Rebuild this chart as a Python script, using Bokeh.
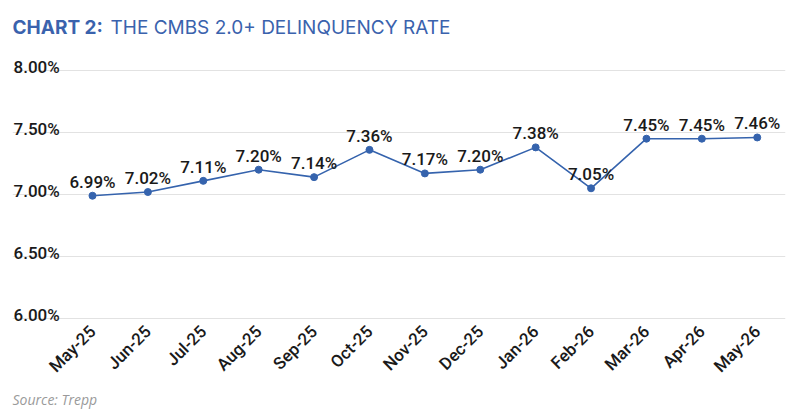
import math
from bokeh.plotting import figure
from bokeh.models import ColumnDataSource, FixedTicker, Label, Range1d, Title
from bokeh.core.properties import value
from bokeh.embed import file_html
from bokeh.resources import INLINE

months = ["May-25", "Jun-25", "Jul-25", "Aug-25", "Sep-25", "Oct-25", "Nov-25",
          "Dec-25", "Jan-26", "Feb-26", "Mar-26", "Apr-26", "May-26"]
rates = [6.99, 7.02, 7.11, 7.20, 7.14, 7.36, 7.17, 7.20, 7.38, 7.05, 7.45, 7.45, 7.46]
y_ticks = [6.0, 6.5, 7.0, 7.5, 8.0]
y_tick_labels = ["6.00%", "6.50%", "7.00%", "7.50%", "8.00%"]

BLUE = "#3563ad"
TITLE_BLUE = "#3a62ad"
TEXT = "#1a1a1a"
FONT = "Roboto Medium"

idx = list(range(len(months)))
src = ColumnDataSource(dict(x=idx, y=rates, lab=["%.2f%%" % r for r in rates]))

x0, x1 = -1.444, 12.51
p = figure(width=806, height=410, output_backend="svg", toolbar_location=None,
           title=None,
           x_range=Range1d(x0, x1), y_range=Range1d(5.9677, 8.5645),
           min_border_left=12, min_border_right=21, min_border_top=0,
           min_border_bottom=88)
p.outline_line_color = None
p.background_fill_color = "white"
p.border_fill_color = "white"

p.yaxis.visible = False
p.ygrid.ticker = FixedTicker(ticks=y_ticks)
p.ygrid.grid_line_color = "#e2e2e2"
p.ygrid.grid_line_width = 1
p.xgrid.visible = False

p.xaxis.ticker = FixedTicker(ticks=idx)
p.xaxis.major_label_overrides = {i: m for i, m in enumerate(months)}
p.xaxis.major_label_orientation = math.pi / 4
p.xaxis.axis_line_color = None
p.xaxis.major_tick_line_color = None
p.xaxis.minor_tick_line_color = None
p.xaxis.major_tick_out = 0
p.xaxis.major_label_text_font = FONT
p.xaxis.major_label_text_font_size = "17px"
p.xaxis.major_label_text_color = TEXT
p.xaxis.major_label_standoff = 6

ysrc = ColumnDataSource(dict(x=[x0] * len(y_ticks), y=y_ticks, t=y_tick_labels))
p.text("x", "y", text="t", source=ysrc, text_font=value(FONT), text_font_size="17px",
       text_color=TEXT, text_align="left", text_baseline="alphabetic",
       x_offset=1, y_offset=-3)

p.line("x", "y", source=src, line_color=BLUE, line_width=1.6)
p.scatter("x", "y", source=src, size=7, fill_color=BLUE, line_color=BLUE)
p.text("x", "y", text="lab", source=src, text_font=value(FONT), text_font_size="17px",
       text_color=TEXT, text_align="center", text_baseline="alphabetic", y_offset=-14)

t1 = Label(x=0, y=322 - 27, x_units="screen", y_units="screen", text="CHART 2:",
           text_font="Inter", text_font_size="19px", text_font_style="bold",
           text_color=TITLE_BLUE, text_baseline="alphabetic")
t2 = Label(x=98, y=322 - 27, x_units="screen", y_units="screen",
           text="THE CMBS 2.0+ DELINQUENCY RATE",
           text_font="Inter", text_font_size="19px", text_color=TITLE_BLUE,
           text_baseline="alphabetic")
p.add_layout(t1)
p.add_layout(t2)

src_title = Title(text="Source: Trepp", align="left", text_font="Open Sans",
                  text_font_size="14px", text_font_style="italic",
                  text_color="#9a9a9a", standoff=2, offset=0)
p.add_layout(src_title, "below")

open("out.html", "w").write(file_html(p, INLINE))
